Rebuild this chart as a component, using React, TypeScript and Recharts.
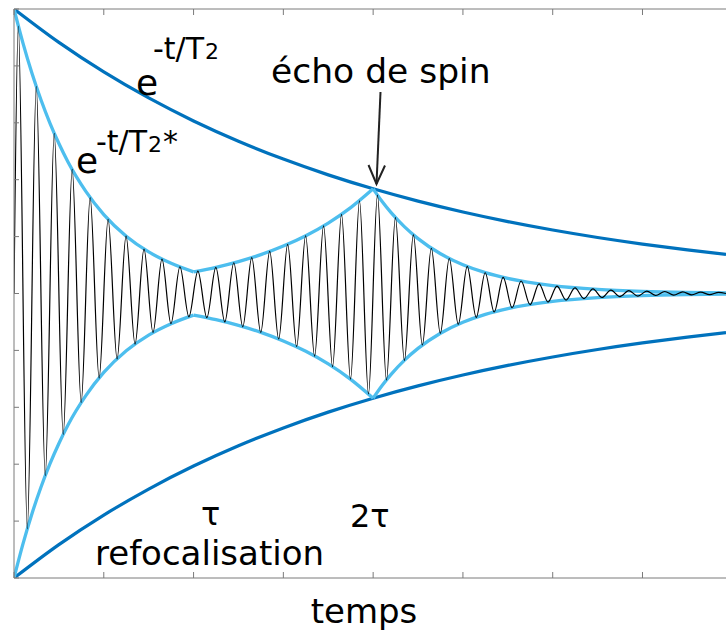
import React from 'react';
import { LineChart, Line, XAxis, YAxis } from 'recharts';

// ---- data ----
const xTicks = [0, 1, 2, 3, 4, 5, 6, 7];
const yTicks = [-1, -0.8, -0.6, -0.4, -0.2, 0, 0.2, 0.4, 0.6, 0.8, 1];

// e^{-t/T2} (dark blue) envelope
const t2Times = [0, 0.5, 1, 1.5, 2, 2.5, 3, 3.5, 4, 4.5, 5, 5.5, 6, 6.5, 7, 7.5, 7.93];
const t2Values = [1, 0.8825, 0.7788, 0.6873, 0.6065, 0.5353, 0.4724, 0.4169, 0.3679, 0.3247, 0.2865, 0.2528, 0.2231, 0.1969, 0.1738, 0.1534, 0.1377];

// e^{-t/T2*} (light blue) envelope: free decay, refocusing, echo decay
const env1Times = [0, 0.1, 0.2, 0.3, 0.4, 0.5, 0.6, 0.8, 1.0, 1.25, 1.5, 1.75, 2.0];
const env1Values = [1, 0.88, 0.774, 0.681, 0.599, 0.527, 0.463, 0.359, 0.2775, 0.2014, 0.1462, 0.1061, 0.076];
const env2Times = [2.0, 2.25, 2.5, 2.75, 3.0, 3.25, 3.5, 3.75, 4.0];
const env2Values = [0.076, 0.0921, 0.1122, 0.1367, 0.1667, 0.2031, 0.2476, 0.3018, 0.3679];
const env3Times = [4.0, 4.1, 4.2, 4.35, 4.5, 4.75, 5.0, 5.25, 5.5, 6.0, 6.5, 7.0, 7.5, 7.93];
const env3Values = [0.3679, 0.3233, 0.2841, 0.2341, 0.1929, 0.1396, 0.1011, 0.0732, 0.053, 0.0278, 0.0146, 0.0076, 0.004, 0.0023];

// oscillating signal: amplitude at each successive extremum (alternating peak / trough)
const oscFirstExtremum = 0.048;
const oscHalfPeriod = 0.1;
const oscAmplitudes = [
  0.94, 0.827, 0.728, 0.64, 0.563, 0.495, 0.436, 0.383, 0.337, 0.297,
  0.261, 0.23, 0.202, 0.178, 0.156, 0.137, 0.121, 0.106, 0.094, 0.082,
  0.079, 0.085, 0.092, 0.1, 0.108, 0.117, 0.126, 0.137, 0.148, 0.16,
  0.173, 0.187, 0.203, 0.22, 0.238, 0.257, 0.278, 0.301, 0.326, 0.353,
  0.346, 0.304, 0.267, 0.235, 0.206, 0.181, 0.159, 0.14, 0.123, 0.108,
  0.095, 0.084, 0.073, 0.065, 0.057, 0.05, 0.044, 0.039, 0.034, 0.03,
  0.026, 0.023, 0.02, 0.018, 0.016, 0.014, 0.012, 0.011, 0.01, 0.009,
  0.008, 0.007, 0.007, 0.006, 0.006, 0.005, 0.005, 0.004, 0.004,
];
const oscStart = { t: 0, v: 0 };
const oscEnd = { t: 7.93, v: 0 };

// ---- tables built from the arrays ----
const pts = (ts: number[], vs: number[], sign = 1) => ts.map((t, i) => ({ t, v: sign * vs[i] }));
const oscData = [
  oscStart,
  ...oscAmplitudes.map((a, k) => ({ t: oscFirstExtremum + k * oscHalfPeriod, v: k % 2 === 0 ? a : -a })),
  oscEnd,
];

const DARK = '#0072BD';
const LIGHT = '#4DBEEE';
const AXIS = '#7a7a7a';
const FONT = '"DejaVu Sans", sans-serif';

export default function App() {
  const common = { dataKey: 'v', dot: false, activeDot: false, isAnimationActive: false, type: 'monotone' as const };
  return (
    <div style={{ position: 'absolute', left: 0, top: 0, width: 726, height: 637, background: '#fff', overflow: 'hidden' }}>
      <LineChart width={726} height={637} margin={{ top: 9, right: 0, left: 14, bottom: 59 }}>
        <XAxis dataKey="t" type="number" domain={[0, 7.93]} allowDataOverflow ticks={xTicks}
          orientation="bottom" mirror height={1} tickSize={6} tickFormatter={() => ''} stroke={AXIS} />
        <XAxis xAxisId="top" dataKey="t" type="number" domain={[0, 7.93]} allowDataOverflow ticks={xTicks}
          orientation="top" mirror height={1} tickSize={6} tickFormatter={() => ''} stroke={AXIS} />
        <YAxis type="number" domain={[-1, 1]} allowDataOverflow ticks={yTicks}
          orientation="left" mirror width={1} tickSize={5} tickFormatter={() => ''} stroke={AXIS} />
        <Line {...common} data={pts(t2Times, t2Values)} stroke={DARK} strokeWidth={3.2} />
        <Line {...common} data={pts(t2Times, t2Values, -1)} stroke={DARK} strokeWidth={3.2} />
        <Line {...common} data={pts(env1Times, env1Values)} stroke={LIGHT} strokeWidth={3.3} />
        <Line {...common} data={pts(env1Times, env1Values, -1)} stroke={LIGHT} strokeWidth={3.3} />
        <Line {...common} data={pts(env2Times, env2Values)} stroke={LIGHT} strokeWidth={3.3} />
        <Line {...common} data={pts(env2Times, env2Values, -1)} stroke={LIGHT} strokeWidth={3.3} />
        <Line {...common} data={pts(env3Times, env3Values)} stroke={LIGHT} strokeWidth={3.3} />
        <Line {...common} data={pts(env3Times, env3Values, -1)} stroke={LIGHT} strokeWidth={3.3} />
        <Line {...common} data={oscData} stroke="#000" strokeWidth={1.2} />
      </LineChart>
      <svg width={726} height={637} style={{ position: 'absolute', left: 0, top: 0, pointerEvents: 'none' }}
        fontFamily={FONT} fill="#000">
        <text x={136} y={95} fontSize={36}>e</text>
        <text x={153} y={59} fontSize={30}>-t/T<tspan fontSize={22} dx={1}>2</tspan></text>
        <text x={76} y={173} fontSize={36}>e</text>
        <text x={96} y={152} fontSize={30}>-t/T<tspan fontSize={22} dx={1}>2</tspan><tspan dx={1}>*</tspan></text>
        <text x={271} y={83} fontSize={34.5}>écho de spin</text>
        <line x1={380.5} y1={92} x2={376.5} y2={184} stroke="#222" strokeWidth={2} />
        <polyline points="368.5,165 376.5,184 385,165.5" fill="none" stroke="#222" strokeWidth={2} />
        <text x={201} y={525} fontSize={32}>τ</text>
        <text x={350} y={527} fontSize={32}>2τ</text>
        <text x={95} y={565} fontSize={34}>refocalisation</text>
        <text x={364} y={623} fontSize={34} textAnchor="middle">temps</text>
      </svg>
    </div>
  );
}
